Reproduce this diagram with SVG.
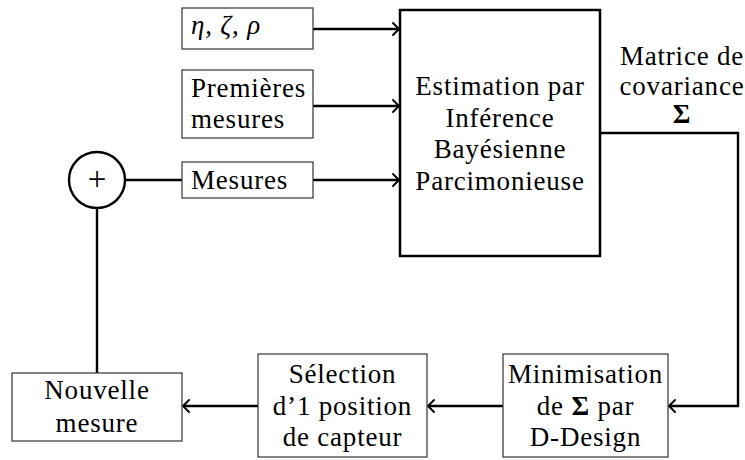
<svg xmlns="http://www.w3.org/2000/svg" width="745" height="460" viewBox="0 0 745 460" font-family="'Liberation Serif', 'DejaVu Serif', serif">
<style>
text{font-family:'Liberation Serif','DejaVu Serif',serif;font-size:27px;fill:#000;letter-spacing:0.8px}
.c{text-anchor:middle}
.box{fill:#fff;stroke:#333;stroke-width:1.2}
.big{fill:#fff;stroke:#000;stroke-width:2.5}
.ln{fill:none;stroke:#000;stroke-width:2.4}
.it{font-style:italic}
.bf{font-weight:bold}
</style>
<defs>
<marker id="arr" viewBox="-10 -8 12 16" markerWidth="12" markerHeight="16" refX="0" refY="0" orient="auto" markerUnits="userSpaceOnUse">
<path d="M-6,-6 Q-1.5,-1.5 0,0 Q-1.5,1.5 -6,6" fill="none" stroke="#000" stroke-width="1.9" stroke-linecap="round"/>
</marker>
</defs>
<g id="connectors">
<line class="ln" x1="313" y1="29" x2="399" y2="29" marker-end="url(#arr)"/>
<line class="ln" x1="313" y1="106" x2="399" y2="106" marker-end="url(#arr)"/>
<line class="ln" x1="313" y1="180" x2="399" y2="180" marker-end="url(#arr)"/>
<line class="ln" x1="125" y1="180" x2="182" y2="180"/>
<line class="ln" x1="97" y1="208" x2="97" y2="373"/>
<polyline class="ln" points="600,133 738,133 738,406 669,406" marker-end="url(#arr)"/>
<line class="ln" x1="503" y1="406" x2="428" y2="406" marker-end="url(#arr)"/>
<line class="ln" x1="258" y1="406" x2="183" y2="406" marker-end="url(#arr)"/>
</g>
<g id="params">
<rect class="box" x="182" y="8" width="131" height="41"/>
<text x="191" y="34"><tspan class="it">η</tspan>, <tspan class="it">ζ</tspan>, <tspan class="it">ρ</tspan></text>
</g>
<g id="premieres">
<rect class="box" x="182" y="70" width="131" height="68"/>
<text x="191" y="97">Premières</text>
<text x="191" y="128">mesures</text>
</g>
<g id="mesures">
<rect class="box" x="182" y="162" width="131" height="36"/>
<text x="191" y="189">Mesures</text>
</g>
<g id="sum">
<circle cx="97" cy="180" r="28" fill="#fff" stroke="#000" stroke-width="2.4"/>
<text class="c" x="97" y="189.5" style="font-size:33px;letter-spacing:0">+</text>
</g>
<g id="estimation">
<rect class="big" x="400" y="10" width="200" height="246"/>
<text class="c" x="500" y="95">Estimation par</text>
<text class="c" x="500" y="127">Inférence</text>
<text class="c" x="500" y="158">Bayésienne</text>
<text class="c" x="500" y="190">Parcimonieuse</text>
</g>
<g id="covariance-label">
<text class="c" x="682" y="65">Matrice de</text>
<text class="c" x="682" y="95">covariance</text>
<text class="c bf" x="682" y="123">Σ</text>
</g>
<g id="minimisation">
<rect class="box" x="503" y="354" width="165" height="103"/>
<text class="c" x="585.5" y="383">Minimisation</text>
<text class="c" x="585.5" y="414.5">de <tspan class="bf">Σ</tspan> par</text>
<text class="c" x="585.5" y="446">D-Design</text>
</g>
<g id="selection">
<rect class="box" x="258" y="354" width="169" height="103"/>
<text class="c" x="342.5" y="383">Sélection</text>
<text class="c" x="342.5" y="414.5">d’1 position</text>
<text class="c" x="342.5" y="446">de capteur</text>
</g>
<g id="nouvelle">
<rect class="box" x="12" y="373" width="170" height="68"/>
<text class="c" x="97" y="399">Nouvelle</text>
<text class="c" x="97" y="432">mesure</text>
</g>
</svg>
